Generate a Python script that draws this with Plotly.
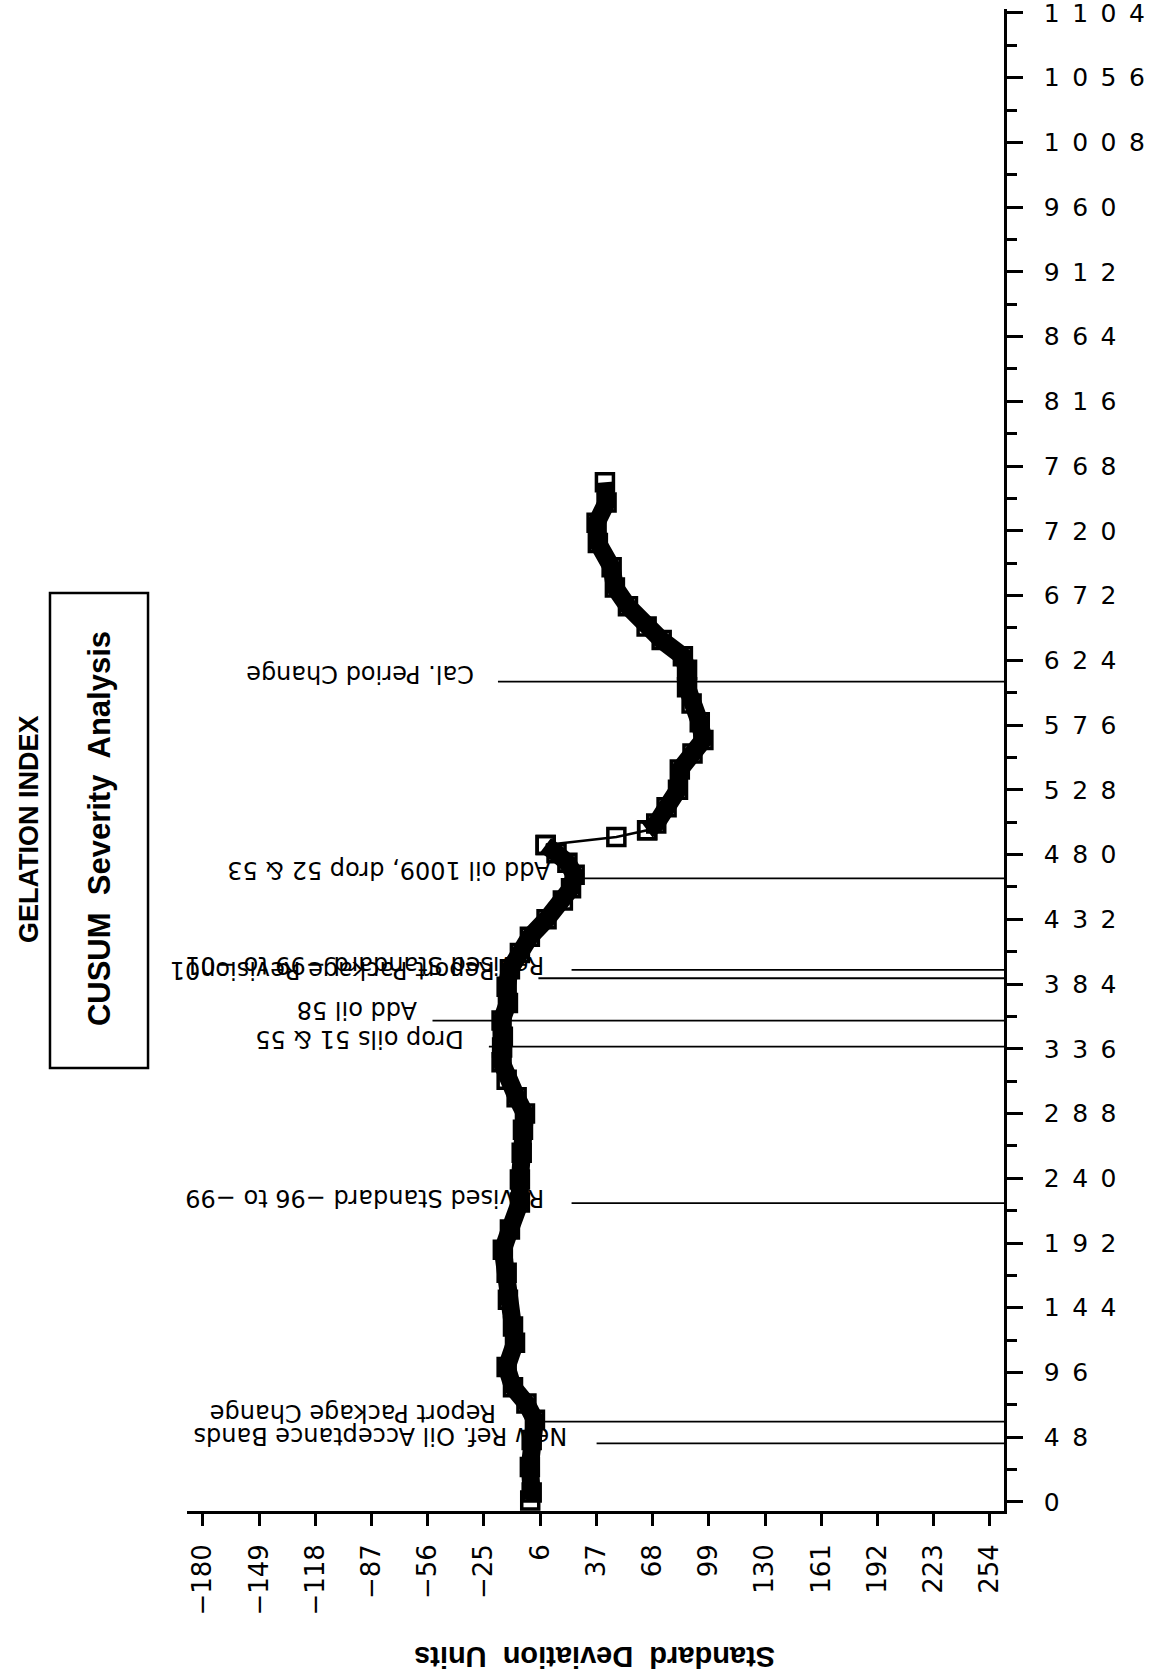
import plotly.graph_objects as go

# ---- data ----
test_no = [1, 7, 26, 46, 61, 73, 85, 100, 118, 130, 150, 170, 187, 202, 222,
           239, 259, 276, 288, 300, 313, 326, 337, 345, 357, 370, 382, 395, 407, 419,
           432, 446, 455, 465, 474, 481, 487, 493, 498, 503, 515, 528, 543, 555, 565,
           578, 592, 604, 617, 627, 639, 649, 664, 678, 693, 711, 726, 741, 756]
cusum = [0.5, 1.3, 0.3, 1.3, 3.1, -1.6, -9.0, -12.5, -7.9, -9.0, -11.8, -12.5, -14.6, -10.7, -5.2,
         -5.2, -4.2, -3.5, -2.4, -7.0, -12.5, -15.3, -15.0, -14.6, -15.3, -11.8, -12.5, -10.7, -5.2, 0.3,
         9.5, 18.5, 23.0, 25.0, 21.0, 15.0, 9.0, 48.0, 65.0, 70.0, 75.7, 82.0, 83.0, 90.0, 96.0,
         94.0, 89.5, 87.0, 87.0, 84.7, 73.0, 64.7, 54.4, 47.2, 45.4, 37.8, 37.1, 42.6, 41.7]

sd_ticks = [-180, -149, -118, -87, -56, -25, 6, 37, 68, 99, 130, 161, 192, 223, 254]
test_ticks = list(range(0, 1105, 48))

event_tests = [43.5, 59.5, 221.6, 337.6, 356.8, 394.5, 388.3, 462.4, 608.2]
event_labels = ["New Ref. Oil Acceptance Bands", "Report Package Change",
                "Revised Standard \u221296 to \u221299", "Drop oils 51 & 55", "Add oil 58",
                "Revised Standard \u221299 to \u221201", "Report Package Revision01",
                "Add oil 1009, drop 52 & 53", "Cal. Period Change"]
event_start = [37.1, 5.9, 23.3, -22.3, -53.4, 23.3, 5.0, 26.7, -17.3]

# ---- style / layout ----
label_gap = [27, 42, 25, 23, 13, 25, 42, 25, 22]
label_lift = [8, 8, 5, 7, 10, 5, 8, 9, 7]

XR = [-188.8, 261.8]
YR = [-6.7, 1106.9]

fig = go.Figure()

jump_a, jump_b = 36, 38  # indices around the sparse jump
marker = dict(symbol="square-open", size=17, color="black", line=dict(width=3.5, color="black"))

fig.add_trace(go.Scatter(x=cusum[:jump_a + 1], y=test_no[:jump_a + 1], mode="lines+markers",
                         line=dict(color="black", width=18), marker=marker, showlegend=False))
fig.add_trace(go.Scatter(x=cusum[jump_a:jump_b + 1], y=test_no[jump_a:jump_b + 1], mode="lines+markers",
                         line=dict(color="black", width=2.5), marker=marker, showlegend=False))
fig.add_trace(go.Scatter(x=cusum[jump_b:], y=test_no[jump_b:], mode="lines+markers",
                         line=dict(color="black", width=18), marker=marker, showlegend=False))

for t, lab, s, g, lift in zip(event_tests, event_labels, event_start, label_gap, label_lift):
    fig.add_shape(type="line", xref="x", yref="y", x0=s, x1=XR[1], y0=t, y1=t,
                  line=dict(color="black", width=1.8), layer="below")
    fig.add_annotation(x=s, y=t, xref="x", yref="y", text=lab, showarrow=False,
                       xanchor="right", yanchor="middle", xshift=-g, yshift=lift,
                       textangle=180, font=dict(family="DejaVu Sans", size=24, color="black"))

# titles
fig.add_annotation(x=-0.1934, y=0.454, xref="paper", yref="paper", text="GELATION INDEX",
                   showarrow=False, textangle=-90, xanchor="center", yanchor="middle",
                   font=dict(family="Liberation Sans", size=27, color="black", weight="bold"))
fig.add_shape(type="rect", xref="paper", yref="paper", x0=-0.1677, x1=-0.0477, y0=0.2949, y1=0.6112,
              line=dict(color="black", width=2.5))
fig.add_annotation(x=-0.1077, y=0.454, xref="paper", yref="paper", text="CUSUM  Severity  Analysis",
                   showarrow=False, textangle=-90, xanchor="center", yanchor="middle",
                   font=dict(family="Liberation Sans", size=31, color="black", weight="bold"))
fig.add_annotation(x=0.4994, y=-0.0972, xref="paper", yref="paper", text="Standard  Deviation  Units",
                   showarrow=False, textangle=180, xanchor="center", yanchor="middle",
                   font=dict(family="Liberation Sans", size=29, color="black", weight="bold"))

fig.update_xaxes(range=XR, showgrid=False, zeroline=False, showline=True, linecolor="black", linewidth=2.5,
                 automargin=False,
                 tickmode="array", tickvals=sd_ticks,
                 ticktext=[("\u2212" + str(abs(v))) if v < 0 else str(v) for v in sd_ticks],
                 ticks="outside", ticklen=12, tickwidth=2.5, tickcolor="black", tickangle=-90,
                 ticklabelstandoff=8,
                 tickfont=dict(family="DejaVu Sans", size=26, color="black"))
fig.update_yaxes(range=YR, side="right", showgrid=False, zeroline=False, showline=True, linecolor="black",
                 linewidth=2.5, automargin=False, tickmode="array", tickvals=test_ticks,
                 ticktext=["\u2002".join(str(v)) for v in test_ticks],
                 ticks="outside", ticklen=16, tickwidth=2.5, tickcolor="black",
                 ticklabelstandoff=16, ticklabeloverflow="allow",
                 minor=dict(ticks="outside", ticklen=10, tickwidth=2.5, tickcolor="black", dtick=24, tick0=0),
                 tickfont=dict(family="DejaVu Sans", size=25, color="black"))

fig.update_layout(width=1152, height=1679, autosize=False,
                  margin=dict(l=187, r=148, t=9, b=168, autoexpand=False),
                  paper_bgcolor="white", plot_bgcolor="white", showlegend=False)

fig.write_html("out.html", config={"displayModeBar": False},
               post_script="document.body.style.margin='0';")
